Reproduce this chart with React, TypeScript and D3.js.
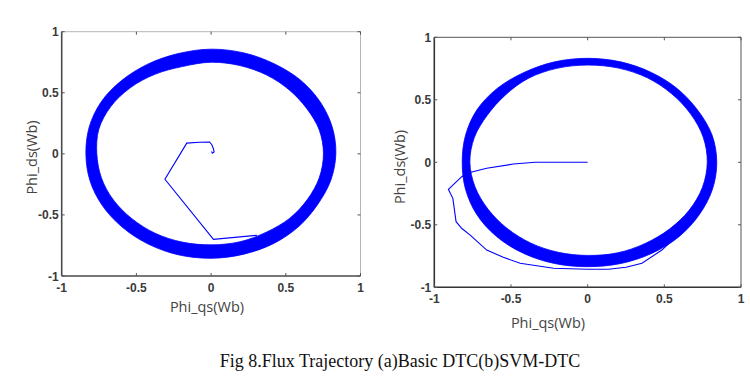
import React from "react";
import * as d3 from "d3";

// ---------- data ----------
const TICKS = [-1, -0.5, 0, 0.5, 1];
const TICK_LABELS = ["-1", "-0.5", "0", "0.5", "1"];

// ring band: polar angles (deg) with outer/inner radius (Wb)
const RING_ANGLES = [0, 15, 30, 45, 60, 75, 90, 105, 120, 135, 150, 165, 180, 195, 210, 225, 240, 255, 270, 285, 300, 315, 330, 345];
const LEFT_OUTER = [0.835, 0.84, 0.845, 0.85, 0.85, 0.855, 0.857, 0.85, 0.848, 0.848, 0.85, 0.845, 0.838, 0.84, 0.842, 0.845, 0.85, 0.855, 0.855, 0.85, 0.845, 0.835, 0.825, 0.83];
const LEFT_INNER = [0.752, 0.75, 0.74, 0.74, 0.745, 0.748, 0.75, 0.74, 0.752, 0.765, 0.775, 0.778, 0.765, 0.76, 0.755, 0.75, 0.75, 0.748, 0.745, 0.745, 0.74, 0.745, 0.745, 0.75];
const RIGHT_OUTER = [0.842, 0.84, 0.83, 0.83, 0.83, 0.832, 0.832, 0.832, 0.83, 0.835, 0.835, 0.825, 0.818, 0.825, 0.835, 0.84, 0.84, 0.838, 0.835, 0.838, 0.84, 0.842, 0.84, 0.842];
const RIGHT_INNER = [0.78, 0.78, 0.775, 0.775, 0.78, 0.78, 0.778, 0.778, 0.775, 0.76, 0.755, 0.765, 0.768, 0.76, 0.75, 0.745, 0.745, 0.745, 0.745, 0.75, 0.75, 0.755, 0.765, 0.775];

// start-up transients
const LEFT_TRANS_X = [0.003, 0.008, 0.02, 0.016, 0.005, -0.01, -0.08, -0.163, -0.309, 0.016, 0.307];
const LEFT_TRANS_Y = [0.02, 0.005, 0.015, 0.04, 0.075, 0.097, 0.095, 0.088, -0.208, -0.7, -0.667];
const RIGHT_TRANS_X = [0, -0.1, -0.2, -0.342, -0.484, -0.658, -0.788, -0.821, -0.908, -0.895, -0.879, -0.858, -0.82, -0.766, -0.658, -0.55, -0.44, -0.223, 0.0, 0.136, 0.25, 0.354, 0.484, 0.647];
const RIGHT_TRANS_Y = [0, 0, 0, 0, -0.014, -0.048, -0.088, -0.115, -0.216, -0.25, -0.288, -0.475, -0.53, -0.582, -0.702, -0.76, -0.808, -0.848, -0.855, -0.856, -0.84, -0.808, -0.702, -0.515];

const X_TITLE = "Phi_qs(Wb)";
const Y_TITLE = "Phi_ds(Wb)";
const CAPTION = "Fig 8.Flux Trajectory (a)Basic DTC(b)SVM-DTC";

const BLUE = "#0000ff";

type Box = { left: number; right: number; top: number; bottom: number };

function Panel(props: {
  box: Box;
  outer: number[];
  inner: number[];
  tx: number[];
  ty: number[];
  xTitle: [number, number];
  yTitle: [number, number];
  strongFrame: string;
  weakFrame: string;
}) {
  const { box, outer, inner, tx, ty } = props;
  const sx = d3.scaleLinear().domain([-1, 1]).range([box.left, box.right]);
  const sy = d3.scaleLinear().domain([-1, 1]).range([box.bottom, box.top]);
  const ringLine = d3
    .line<[number, number]>()
    .x((d) => sx(d[0]))
    .y((d) => sy(d[1]))
    .curve(d3.curveCatmullRomClosed.alpha(0.5));
  const toPts = (radii: number[]): [number, number][] =>
    RING_ANGLES.map((a, i) => {
      const t = (a * Math.PI) / 180;
      return [radii[i] * Math.cos(t), radii[i] * Math.sin(t)];
    });
  const ringPath = (ringLine(toPts(outer)) || "") + (ringLine(toPts(inner).reverse()) || "");
  const transLine = d3
    .line<number>()
    .x((_, i) => sx(tx[i]))
    .y((_, i) => sy(ty[i]));
  const tickLen = 3;
  const labelFont = "Arial, 'Liberation Sans', sans-serif";
  return (
    <g>
      <path d={ringPath} fill={BLUE} fillRule="evenodd" stroke={BLUE} strokeWidth={0.8} strokeLinejoin="round" />
      <path d={transLine(tx) || ""} fill="none" stroke={BLUE} strokeWidth={1.1} />
      {/* frame */}
      <line x1={box.left} x2={box.right} y1={box.top} y2={box.top} stroke={props.weakFrame} strokeWidth={1} />
      <line x1={box.right} x2={box.right} y1={box.top} y2={box.bottom} stroke={props.weakFrame} strokeWidth={1} />
      <line x1={box.left} x2={box.right} y1={box.bottom} y2={box.bottom} stroke={props.strongFrame} strokeWidth={1.6} />
      <line x1={box.left} x2={box.left} y1={box.top} y2={box.bottom} stroke={props.strongFrame} strokeWidth={1.6} />
      {/* ticks */}
      {TICKS.map((t) => (
        <g key={"t" + t}>
          <line x1={sx(t)} x2={sx(t)} y1={box.bottom} y2={box.bottom - tickLen} stroke="#555" />
          <line x1={sx(t)} x2={sx(t)} y1={box.top} y2={box.top + tickLen} stroke="#555" />
          <line x1={box.left} x2={box.left + tickLen} y1={sy(t)} y2={sy(t)} stroke="#555" />
          <line x1={box.right} x2={box.right - tickLen} y1={sy(t)} y2={sy(t)} stroke="#555" />
        </g>
      ))}
      {TICKS.map((t, i) => (
        <text key={"xl" + t} x={sx(t)} y={box.bottom + 16} textAnchor="middle" fontFamily={labelFont} fontWeight="bold" fontSize={12} fill="#3a3a3a">
          {TICK_LABELS[i]}
        </text>
      ))}
      {TICKS.map((t, i) => (
        <text key={"yl" + t} x={box.left - 3} y={sy(t) + 4.5} textAnchor="end" fontFamily={labelFont} fontWeight="bold" fontSize={12} fill="#3a3a3a">
          {TICK_LABELS[i]}
        </text>
      ))}
      <text x={props.xTitle[0]} y={props.xTitle[1] + 5} textAnchor="middle" fontFamily="'Open Sans', 'DejaVu Sans', sans-serif" fontSize={14.5} fill="#444">
        {X_TITLE}
      </text>
      <text
        transform={`translate(${props.yTitle[0] + 5},${props.yTitle[1]}) rotate(-90)`}
        textAnchor="middle"
        fontFamily="'Open Sans', 'DejaVu Sans', sans-serif"
        fontSize={14.5}
        fill="#444"
      >
        {Y_TITLE}
      </text>
    </g>
  );
}

export default function App() {
  return (
    <svg width={750} height={376} style={{ position: "absolute", left: 0, top: 0, background: "#fff" }}>
      <rect x={0} y={0} width={750} height={376} fill="#fff" />
      <Panel
        box={{ left: 61.7, right: 360.5, top: 31.7, bottom: 276 }}
        outer={LEFT_OUTER}
        inner={LEFT_INNER}
        tx={LEFT_TRANS_X}
        ty={LEFT_TRANS_Y}
        xTitle={[207, 307]}
        yTitle={[32, 157.5]}
        strongFrame="#4a4a4a"
        weakFrame="#b5b5b5"
      />
      <Panel
        box={{ left: 434.3, right: 741, top: 37.3, bottom: 287.3 }}
        outer={RIGHT_OUTER}
        inner={RIGHT_INNER}
        tx={RIGHT_TRANS_X}
        ty={RIGHT_TRANS_Y}
        xTitle={[548, 323]}
        yTitle={[400, 167]}
        strongFrame="#333"
        weakFrame="#555"
      />
      <text x={400} y={367} textAnchor="middle" fontFamily="'Liberation Serif', 'Times New Roman', serif" fontSize={18} fill="#111">
        {CAPTION}
      </text>
    </svg>
  );
}
